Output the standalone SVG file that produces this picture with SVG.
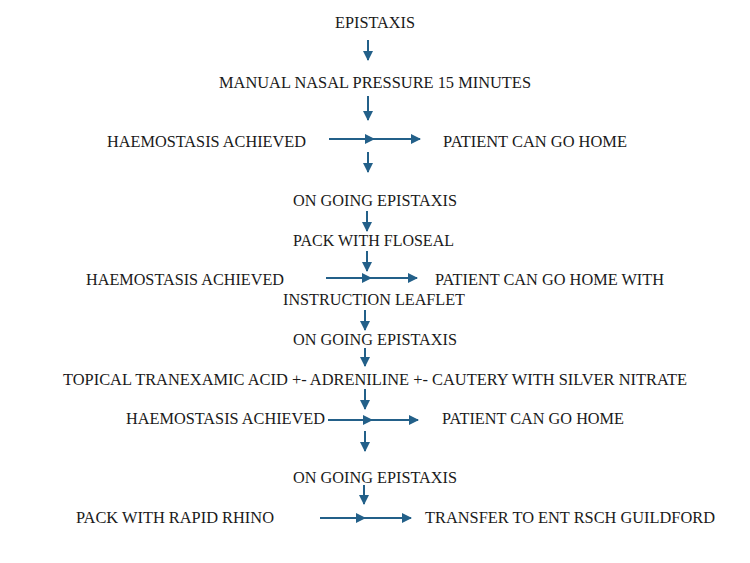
<svg xmlns="http://www.w3.org/2000/svg" width="750" height="563" viewBox="0 0 750 563">
<style>
text{font-family:"Liberation Serif","Times New Roman",serif;font-size:16.4px;fill:#1a1a1a}
.c line{stroke:#236089;stroke-width:2}
</style>
<defs>
<marker id="ah" viewBox="0 0 10 10" refX="9" refY="5" markerWidth="5" markerHeight="5" markerUnits="strokeWidth" orient="auto">
<path d="M0,0 L10,5 L0,10 z" fill="#236089"/>
</marker>
</defs>
<rect width="750" height="563" fill="#fff"/>
<g id="n1"><text x="335" y="28" textLength="80" lengthAdjust="spacingAndGlyphs">EPISTAXIS</text></g>
<g id="n2"><text x="219" y="88" textLength="312" lengthAdjust="spacingAndGlyphs">MANUAL NASAL PRESSURE 15 MINUTES</text></g>
<g id="n3"><text x="107" y="147" textLength="199" lengthAdjust="spacingAndGlyphs">HAEMOSTASIS ACHIEVED</text></g>
<g id="n4"><text x="443" y="147" textLength="184" lengthAdjust="spacingAndGlyphs">PATIENT CAN GO HOME</text></g>
<g id="n5"><text x="293" y="206" textLength="164" lengthAdjust="spacingAndGlyphs">ON GOING EPISTAXIS</text></g>
<g id="n6"><text x="293" y="246" textLength="161" lengthAdjust="spacingAndGlyphs">PACK WITH FLOSEAL</text></g>
<g id="n7"><text x="86" y="285" textLength="198" lengthAdjust="spacingAndGlyphs">HAEMOSTASIS ACHIEVED</text></g>
<g id="n8"><text x="435" y="285" textLength="229" lengthAdjust="spacingAndGlyphs">PATIENT CAN GO HOME WITH</text><text x="283" y="305" textLength="182" lengthAdjust="spacingAndGlyphs">INSTRUCTION LEAFLET</text></g>
<g id="n9"><text x="293" y="345" textLength="164" lengthAdjust="spacingAndGlyphs">ON GOING EPISTAXIS</text></g>
<g id="n10"><text x="63" y="385" textLength="624" lengthAdjust="spacingAndGlyphs">TOPICAL TRANEXAMIC ACID +- ADRENILINE +- CAUTERY WITH SILVER NITRATE</text></g>
<g id="n11"><text x="126" y="424" textLength="199" lengthAdjust="spacingAndGlyphs">HAEMOSTASIS ACHIEVED</text></g>
<g id="n12"><text x="442" y="424" textLength="182" lengthAdjust="spacingAndGlyphs">PATIENT CAN GO HOME</text></g>
<g id="n13"><text x="293" y="483" textLength="164" lengthAdjust="spacingAndGlyphs">ON GOING EPISTAXIS</text></g>
<g id="n14"><text x="76" y="523" textLength="198" lengthAdjust="spacingAndGlyphs">PACK WITH RAPID RHINO</text></g>
<g id="n15"><text x="425" y="523" textLength="290" lengthAdjust="spacingAndGlyphs">TRANSFER TO ENT RSCH GUILDFORD</text></g>
<g id="connectors" class="c">
<line x1="368" y1="40" x2="368" y2="60" marker-end="url(#ah)"/>
<line x1="368" y1="96" x2="368" y2="120" marker-end="url(#ah)"/>
<line x1="329" y1="139" x2="374" y2="139" marker-end="url(#ah)"/>
<line x1="374" y1="139" x2="420" y2="139" marker-end="url(#ah)"/>
<line x1="368" y1="152" x2="368" y2="172" marker-end="url(#ah)"/>
<line x1="367" y1="211" x2="367" y2="231" marker-end="url(#ah)"/>
<line x1="367" y1="251" x2="367" y2="271" marker-end="url(#ah)"/>
<line x1="326" y1="278" x2="371" y2="278" marker-end="url(#ah)"/>
<line x1="371" y1="278" x2="417" y2="278" marker-end="url(#ah)"/>
<line x1="365" y1="310" x2="365" y2="330" marker-end="url(#ah)"/>
<line x1="365" y1="348" x2="365" y2="366" marker-end="url(#ah)"/>
<line x1="365" y1="389" x2="365" y2="409" marker-end="url(#ah)"/>
<line x1="328" y1="420" x2="372" y2="420" marker-end="url(#ah)"/>
<line x1="372" y1="420" x2="418" y2="420" marker-end="url(#ah)"/>
<line x1="365" y1="431" x2="365" y2="451" marker-end="url(#ah)"/>
<line x1="364" y1="485" x2="364" y2="504" marker-end="url(#ah)"/>
<line x1="320" y1="518" x2="365" y2="518" marker-end="url(#ah)"/>
<line x1="365" y1="518" x2="411" y2="518" marker-end="url(#ah)"/>
</g>
</svg>
